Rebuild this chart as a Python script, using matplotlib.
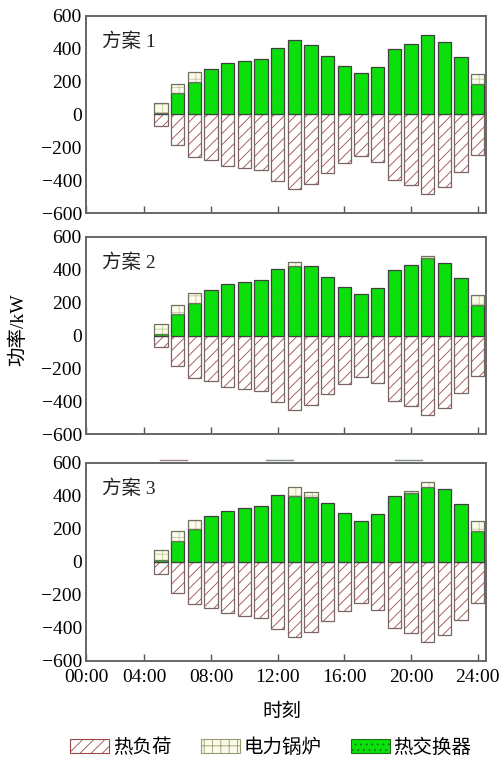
import numpy as np
import matplotlib
matplotlib.use("Agg")
import matplotlib.pyplot as plt
from matplotlib.patches import Patch
from matplotlib.lines import Line2D

plt.rcParams['font.family'] = ['Liberation Serif', 'Noto Sans CJK SC']
plt.rcParams['hatch.linewidth'] = 0.6

# hours 05:00 .. 24:00
hours = list(range(5, 25))
heat_load = [70, 186, 257, 280, 312, 325, 338, 407, 454, 422,
             357, 296, 251, 290, 398, 429, 484, 444, 350, 246]

boiler_1 = [58, 57, 59, 0, 0, 0, 0, 0, 0, 0,
            0, 0, 0, 0, 0, 0, 0, 0, 0, 60]
hx_1 = [12, 129, 198, 280, 312, 325, 338, 407, 454, 422,
        357, 296, 251, 290, 398, 429, 484, 444, 350, 186]

boiler_2 = [58, 57, 59, 0, 0, 0, 0, 0, 24, 0,
            0, 0, 0, 0, 0, 0, 12, 0, 0, 60]
hx_2 = [12, 129, 198, 280, 312, 325, 338, 407, 424, 422,
        357, 296, 251, 290, 398, 429, 470, 444, 350, 186]

boiler_3 = [58, 57, 59, 0, 0, 0, 0, 0, 53, 28,
            0, 0, 0, 0, 0, 10, 27, 0, 0, 60]
hx_3 = [12, 129, 198, 280, 312, 325, 338, 407, 400, 394,
        357, 296, 251, 290, 398, 418, 456, 444, 350, 186]

schemes = ["方案 1", "方案 2", "方案 3"]
tick_pos = [0.5, 4, 8, 12, 16, 20, 24]
tick_labels = ["00:00", "04:00", "08:00", "12:00", "16:00", "20:00", "24:00"]
y_ticks = [-600, -400, -200, 0, 200, 400, 600]

GREEN = '#08e208'
GREEN_DOTS = '#26c826'
LOAD_HATCH = '#a04848'
BOILER_FACE = '#fbfbea'
BOILER_HATCH = '#c8c8a0'

fig = plt.figure(figsize=(5.02, 7.6), dpi=100)
panels = [(0.7197, 0.2593), (0.4289, 0.2593), (0.1303, 0.2605)]
data = [(hx_1, boiler_1), (hx_2, boiler_2), (hx_3, boiler_3)]
w = 0.8

for i, ((bottom, height), (hx, boiler)) in enumerate(zip(panels, data)):
    ax = fig.add_axes([0.1713, bottom, 0.7968, height])
    neg = [-v for v in heat_load]
    # heat load (negative side)
    ax.bar(hours, neg, width=w, color='white', edgecolor=LOAD_HATCH,
           hatch='///', linewidth=0)
    ax.bar(hours, neg, width=w, fill=False, edgecolor='#7a6464', linewidth=0.9)
    # heat exchanger
    ax.bar(hours, hx, width=w, color=GREEN, edgecolor=GREEN_DOTS,
           hatch='...', linewidth=0)
    ax.bar(hours, hx, width=w, fill=False, edgecolor='#404040', linewidth=0.9)
    # electric boiler on top
    ax.bar(hours, boiler, width=w, bottom=hx, color=BOILER_FACE,
           edgecolor=BOILER_HATCH, hatch='++', linewidth=0)
    ax.bar(hours, boiler, width=w, bottom=hx, fill=False,
           edgecolor=['#707060' if b > 0 else 'none' for b in boiler],
           linewidth=0.9)

    ax.set_xlim(0.5, 24.5)
    ax.set_ylim(-600, 600)
    ax.set_yticks(y_ticks)
    ax.set_yticklabels([str(t).replace('-', '\u2212') for t in y_ticks], fontsize=14)
    ax.set_xticks(tick_pos)
    if i == 2:
        ax.set_xticklabels(tick_labels, fontsize=14)
    else:
        ax.set_xticklabels([])
    ax.tick_params(axis='x', direction='in', length=5, width=1, color='#555555', pad=6)
    ax.tick_params(axis='y', length=0, pad=3)
    for s in ax.spines.values():
        s.set_color('#666666')
        s.set_linewidth(1.4)
    ax.text(0.04, 0.87, schemes[i], transform=ax.transAxes, fontsize=14,
            va='center', ha='left', color='#222222')

fig.text(0.036, 0.566, "功率/kW", rotation=90, ha='center', va='center', fontsize=14)
fig.text(0.562, 0.063, "时刻", ha='center', va='center', fontsize=14)

# small stray strokes above the third panel
for x0, x1, c in [(160, 187, '#a08080'), (266, 293, '#809080'), (395, 422, '#809080')]:
    fig.add_artist(Line2D([x0 / 502, x1 / 502], [1 - 460 / 760] * 2,
                          color=c, linewidth=1, transform=fig.transFigure))

handles = [
    Patch(facecolor='white', edgecolor=LOAD_HATCH, hatch='///', linewidth=0.8),
    Patch(facecolor=BOILER_FACE, edgecolor='#9a9a70', hatch='++', linewidth=0.8),
    Patch(facecolor=GREEN, edgecolor='#1f6f1f', hatch='...', linewidth=0.8),
]
fig.legend(handles, ["热负荷", "电力锅炉", "热交换器"], loc='center',
           bbox_to_anchor=(0.54, 0.016), ncol=3, frameon=False, fontsize=14,
           handlelength=2.0, handleheight=0.7, handletextpad=0.2, columnspacing=1.5)

fig.savefig("out.png", dpi=100)
